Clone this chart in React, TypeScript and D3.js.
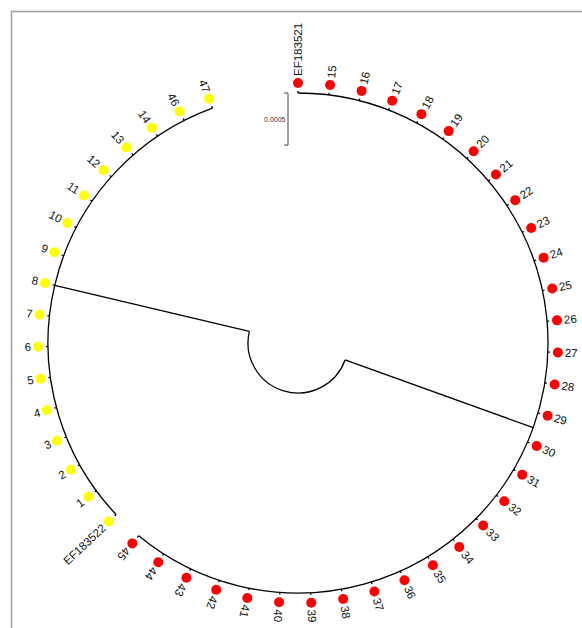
import React from "react";
import * as d3 from "d3";

// ---- data ----
const redLeaves = ["EF183521", "15", "16", "17", "18", "19", "20", "21", "22", "23", "24", "25", "26", "27", "28", "29", "30", "31", "32", "33", "34", "35", "36", "37", "38", "39", "40", "41", "42", "43", "44", "45"];
const yellowLeaves = ["EF183522", "1", "2", "3", "4", "5", "6", "7", "8", "9", "10", "11", "12", "13", "14", "46", "47"];
const cladeNames = ["red", "yellow"];
const cladeColors = ["#ff0000", "#ffff00"];
const cladeBranchLengths = [0.00192, 0.00192];
const leafBranchLength = 0.00002;
const scaleBarValue = 0.0005;
const scaleBarLabel = "0.0005";

const W = 582;
const H = 628;
const cx = 298;
const cy = 343;
const rootRadius = 50;
const treeRadius = 250;
const dotRadius = 260;
const labelRadius = 267;

export default function App() {
  const treeData = {
    name: "root",
    length: 0,
    children: [
      { name: cladeNames[0], length: cladeBranchLengths[0], color: cladeColors[0], flip: false, children: redLeaves.map((n) => ({ name: n, length: leafBranchLength })) },
      { name: cladeNames[1], length: cladeBranchLengths[1], color: cladeColors[1], flip: true, children: yellowLeaves.map((n) => ({ name: n, length: leafBranchLength })) },
    ],
  };
  const root: any = d3.hierarchy(treeData as any);
  root.eachBefore((n: any) => {
    n.dist = (n.parent ? n.parent.dist : 0) + (n.data.length || 0);
  });
  const leaves = root.leaves();
  const angle = d3.scaleLinear().domain([0, leaves.length - 1]).range([-90, 250]);
  const rScale = d3.scaleLinear().domain([0, cladeBranchLengths[0]]).range([rootRadius, treeRadius]);
  leaves.forEach((l: any, i: number) => (l.angle = angle(i)));
  root.eachAfter((n: any) => {
    if (n.children) {
      const a = n.children.map((c: any) => c.angle);
      n.angle = (d3.min(a) + d3.max(a)) / 2;
    }
  });
  const rad = (deg: number) => (deg * Math.PI) / 180;
  const pt = (r: number, a: number) => [cx + r * Math.cos(rad(a)), cy + r * Math.sin(rad(a))];

  const paths: string[] = [];
  root.each((n: any) => {
    if (n.parent) {
      const [x0, y0] = pt(rScale(n.parent.dist), n.angle);
      const [x1, y1] = pt(rScale(n.dist), n.angle);
      paths.push(`M${x0},${y0}L${x1},${y1}`);
    }
    if (n.children) {
      const a = n.children.map((c: any) => c.angle);
      const p = d3.path();
      const r = rScale(n.dist);
      const a0 = rad(d3.min(a) as number);
      const a1 = rad(d3.max(a) as number);
      p.moveTo(cx + r * Math.cos(a0), cy + r * Math.sin(a0));
      p.arc(cx, cy, r, a0, a1, false);
      paths.push(p.toString());
    }
  });

  const sbPx = rScale(scaleBarValue) - rScale(0);
  const sbX = 288;
  const sbY = 93;

  return (
    <svg width={W} height={H} style={{ position: "absolute", left: 0, top: 0, background: "#fff" }} fontFamily="'Liberation Sans', Arial, sans-serif">
      <rect x={11.5} y={11.5} width={700} height={800} fill="none" stroke="#a0a0a0" strokeWidth={1.6} />
      {paths.map((d, i) => (
        <path key={i} d={d} fill="none" stroke="#000" strokeWidth={1.3} />
      ))}
      {leaves.map((l: any, i: number) => {
        const color = l.parent.data.color;
        const flip = l.parent.data.flip;
        const [dx, dy] = pt(dotRadius, l.angle);
        const [tx, ty] = pt(labelRadius, l.angle);
        const rot = flip ? l.angle + 180 : l.angle;
        return (
          <g key={i}>
            <circle cx={dx} cy={dy} r={5} fill={color} />
            <text
              x={0}
              y={0}
              transform={`translate(${tx},${ty}) rotate(${rot})`}
              textAnchor={flip ? "end" : "start"}
              dominantBaseline="central"
              fontSize={11.5}
              fill="#111"
            >
              {l.data.name}
            </text>
          </g>
        );
      })}
      <g stroke="#444" strokeWidth={1}>
        <line x1={sbX} y1={sbY} x2={sbX} y2={sbY + sbPx} />
        <line x1={sbX - 4} y1={sbY} x2={sbX} y2={sbY} />
        <line x1={sbX - 4} y1={sbY + sbPx} x2={sbX} y2={sbY + sbPx} />
      </g>
      <text x={sbX - 2.5} y={sbY + sbPx / 2} textAnchor="end" dominantBaseline="central" fontSize={7} fill="#333">
        {scaleBarLabel}
      </text>
    </svg>
  );
}
